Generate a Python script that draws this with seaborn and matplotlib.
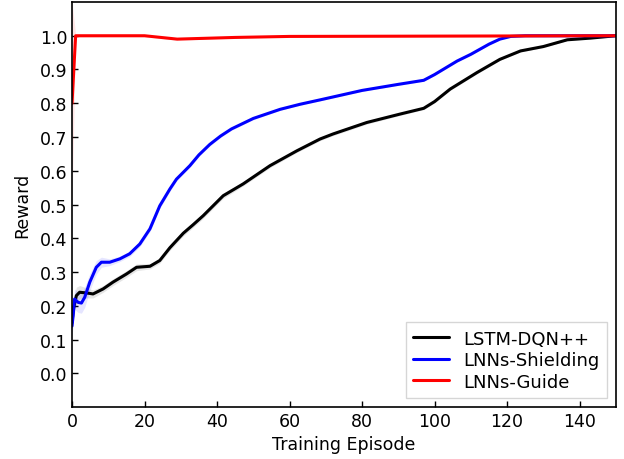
"""
plot.py - Curvas de recompensa por episodio de entrenamiento
"""

import numpy as np
import pandas as pd
import matplotlib
matplotlib.use("Agg")
import matplotlib.pyplot as plt
import seaborn as sns

# --- datos ---
ep_lstm = [0, 0.3, 1.2, 2.1, 4, 5.8, 8.6, 11.3, 15, 17.8, 21.5, 24.2, 27, 30.7, 33.4,
           36.2, 41.7, 47.2, 54.6, 62, 68.4, 72, 81.3, 90.5, 97, 100, 104.3, 111.7,
           118, 123.7, 130, 136.6, 143, 150]
rew_lstm = [0.15, 0.186, 0.23, 0.24, 0.238, 0.235, 0.25, 0.27, 0.294, 0.314, 0.317,
            0.334, 0.372, 0.415, 0.44, 0.467, 0.526, 0.561, 0.615, 0.659, 0.694,
            0.709, 0.743, 0.768, 0.785, 0.805, 0.842, 0.891, 0.93, 0.955, 0.968,
            0.988, 0.993, 1.0]
std_lstm = [0.03, 0.03, 0.025, 0.02, 0.015, 0.012, 0.01, 0.01, 0.01, 0.01, 0.008,
            0.008, 0.008, 0.008, 0.008, 0.008, 0.008, 0.006, 0.006, 0.005, 0.005,
            0.005, 0.005, 0.004, 0.004, 0.004, 0.004, 0.004, 0.003, 0.003, 0.003,
            0.002, 0.002, 0.002]

ep_shield = [0, 0.3, 0.7, 1.7, 2.6, 3.5, 4.9, 6.7, 8.1, 10.4, 13.2, 15.9, 18.7, 21.5,
             24.2, 27, 28.8, 32.5, 35, 38, 41, 44, 50, 57.4, 62.9, 68.4, 80, 90, 97,
             100, 106.2, 110, 115, 118, 121, 125, 150]
rew_shield = [0.14, 0.17, 0.22, 0.21, 0.208, 0.225, 0.27, 0.314, 0.329, 0.329, 0.339,
              0.354, 0.383, 0.428, 0.496, 0.546, 0.575, 0.615, 0.647, 0.678, 0.703,
              0.724, 0.755, 0.782, 0.797, 0.81, 0.838, 0.856, 0.868, 0.885, 0.925,
              0.945, 0.975, 0.99, 0.998, 1.0, 1.0]
std_shield = [0.03, 0.03, 0.03, 0.03, 0.03, 0.03, 0.025, 0.02, 0.015, 0.01, 0.008,
              0.008, 0.008, 0.008, 0.008, 0.007, 0.006, 0.005, 0.005, 0.005, 0.004,
              0.004, 0.004, 0.003, 0.003, 0.003, 0.003, 0.003, 0.003, 0.003, 0.003,
              0.003, 0.002, 0.002, 0.002, 0.002, 0.002]

ep_guide = [0, 1, 20, 29, 45, 60, 150]
rew_guide = [0.8, 1.0, 1.0, 0.99, 0.995, 0.998, 1.0]
std_guide = [0.3, 0.004, 0.003, 0.003, 0.002, 0.002, 0.002]

series = [
    ("LSTM-DQN++", ep_lstm, rew_lstm, std_lstm, "black"),
    ("LNNs-Shielding", ep_shield, rew_shield, std_shield, "blue"),
    ("LNNs-Guide", ep_guide, rew_guide, std_guide, "red"),
]

df = pd.concat([pd.DataFrame({"Episode": e, "Reward": r, "std": s, "Modelo": n})
                for n, e, r, s, _ in series], ignore_index=True)

sns.set_style("ticks")
plt.rcParams["font.family"] = ["DejaVu Sans"]
plt.rcParams.update({"xtick.color": "black", "ytick.color": "black",
                     "axes.edgecolor": "black", "axes.labelcolor": "black",
                     "text.color": "black"})

fig = plt.figure(figsize=(6.24, 4.6), dpi=100)
ax = fig.add_axes([0.1154, 0.113, 0.8716, 0.8805])

palette = {n: c for n, _, _, _, c in series}
for n, e, r, s, c in series:
    lo = np.array(r) - np.array(s)
    hi = np.array(r) + np.array(s)
    ax.fill_between(e, lo, hi, color=c, alpha=0.1, linewidth=0)

sns.lineplot(data=df, x="Episode", y="Reward", hue="Modelo", palette=palette,
             linewidth=2.2, ax=ax, estimator=None, sort=False)

ax.set_xlim(0, 150)
ax.set_ylim(-0.1, 1.1)
ax.set_xticks(range(0, 141, 20))
ax.set_yticks(np.round(np.arange(0, 1.01, 0.1), 1))
ax.tick_params(direction="in", labelsize=12.5, length=4, width=1)
ax.set_xlabel("Training Episode", fontsize=12.5)
ax.set_ylabel("Reward", fontsize=12.5, labelpad=6)
for sp in ax.spines.values():
    sp.set_visible(True)
    sp.set_linewidth(1.2)

leg = ax.legend(loc="lower right", fontsize=13, fancybox=False, title=None,
                labelspacing=0.2)
leg.get_frame().set_edgecolor("#cccccc")

fig.savefig("out.png", dpi=100)
